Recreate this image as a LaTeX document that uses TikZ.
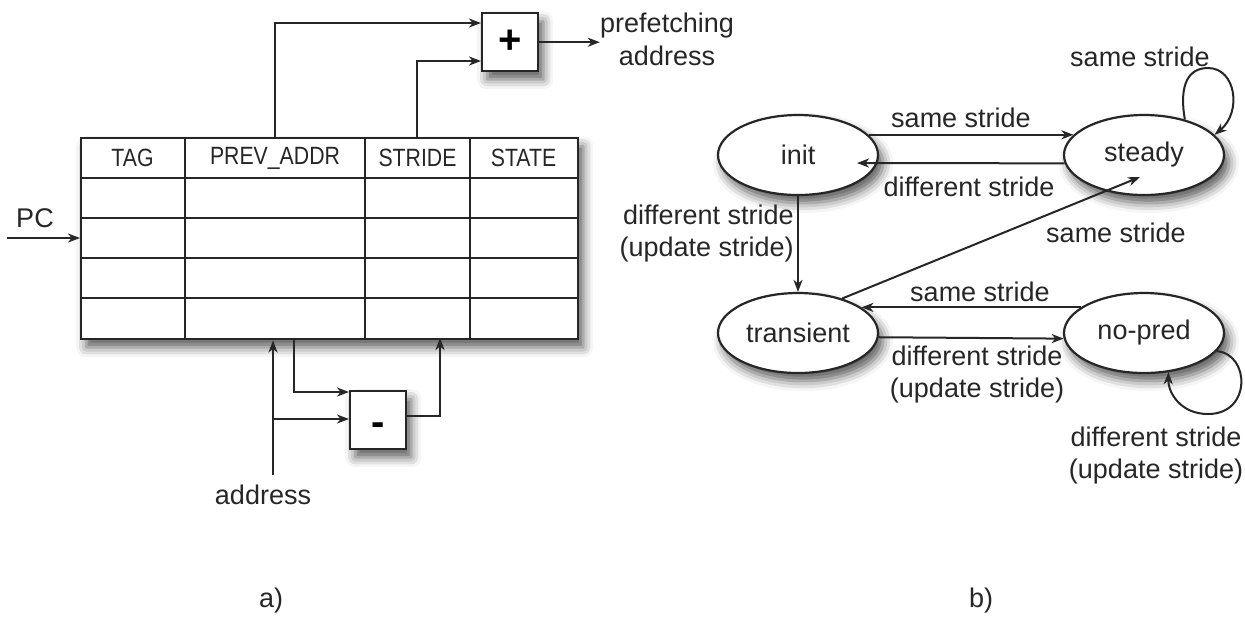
\documentclass[tikz,border=0pt]{standalone}
\usepackage{fontspec}
\setmainfont{Liberation Sans}
\newfontfamily\narrowfont[FakeStretch=0.85]{Liberation Sans}
\usetikzlibrary{arrows.meta,shapes.geometric,shadows.blur,calc}
\begin{document}
\begin{tikzpicture}[x=0.5pt,y=-0.5pt,
  lbl/.style={font=\fontsize{13.5}{16}\selectfont, inner sep=0pt, text=black!85},
  hdr/.style={font=\narrowfont\fontsize{12.5}{14}\selectfont, inner sep=0pt, text=black!85},
  arr/.style={-{Stealth[length=6pt,width=4.5pt,inset=1.8pt]}, line width=1pt, draw=black!85},
  shd/.style={blur shadow={shadow xshift=2.5pt, shadow yshift=-4pt, shadow blur radius=5pt, shadow opacity=65}},
  box/.style={draw=black!85, line width=1.2pt, fill=white, shd, inner sep=0pt},
  state/.style={ellipse, draw=black!85, line width=1.1pt, fill=white, shd, minimum width=80pt, minimum height=40pt, inner sep=0pt, font=\fontsize{13.5}{16}\selectfont, text=black!85},
]
\useasboundingbox (0,0) rectangle (1245,629);

% ---------- a) table ----------
\node[box, anchor=north west, minimum width=248.5pt, minimum height=100.5pt] (tbl) at (80,137) {};
\foreach \xx in {185,365,470} \draw[line width=1.1pt, black!85] (\xx,137) -- (\xx,338);
\foreach \yy in {178,218,258,298} \draw[line width=1.1pt, black!85] (80,\yy) -- (577,\yy);
\node[hdr] (hTag) at (132.5,158) {TAG};
\node[hdr] (hPrev) at (275,158) {PREV\_ADDR};
\node[hdr] (hStride) at (417.5,158) {STRIDE};
\node[hdr] (hState) at (523.5,158) {STATE};

% plus box
\node[box, anchor=north west, minimum width=28pt, minimum height=29pt, font=\fontsize{20}{20}\bfseries\selectfont] (plus) at (481,12) {+};
\node[lbl, align=center, font=\fontsize{13.5}{16.5}\selectfont] (pref) at (667,39) {prefetching\\address};
\coordinate (prevTop) at (275,137);
\coordinate (strTop) at (417,137);
\coordinate (plusIn1) at (481,23);
\coordinate (plusIn2) at (481,61);
\draw[arr] (prevTop) |- (plusIn1);
\draw[arr] (strTop) |- (plusIn2);
\draw[arr] (plus.east) -- (plus.east -| pref.west);

% PC
\node[lbl] (pc) at (35,218) {PC};
\coordinate (pcStart) at (7,238);
\draw[arr] (pcStart) -- (pcStart -| tbl.west);

% minus box
\node[box, anchor=north west, minimum width=28pt, minimum height=29pt, text height=14.8pt, text depth=0pt, font=\fontsize{20}{20}\bfseries\selectfont] (minus) at (349,390) {-};
\node[lbl] (addr) at (263,495) {address};
\coordinate (addrTop) at (273,475);
\coordinate (br) at (273,419);
\coordinate (prevBot) at (294,338);
\coordinate (minIn1) at (349,392);
\coordinate (strBot) at (440,338);
\draw[arr] (addrTop) -- (addrTop |- tbl.south);
\draw[arr] (br) -- (minus.west |- br);
\draw[arr] (prevBot) |- (minIn1);
\draw[arr] ([yshift=2pt]minus.east) -| (strBot);

\node[lbl] (la) at (271,600) {a)};

% ---------- b) state machine ----------
\node[state] (init) at (798,155) {init};
\node[state] (steady) at (1144,155) {steady};
\node[state] (trans) at (798,333) {transient};
\node[state] (nopred) at (1144,333) {no-pred};

\draw[arr] (init.16) -- (steady.164);
\draw[arr] (steady.186) -- ($(init.center)+(59,8)$);
\draw[arr] (init.south) -- (trans.north);
\draw[arr] (trans.38) -- ($(steady.center)+(-4,22)$);
\draw[arr] (nopred.158) -- (trans.22);
\draw[arr] (trans.-3.5) -- (nopred.-176.5);
\coordinate (sTop) at (1208,68);
\draw[arr] (steady.41) .. controls (1180,92) and (1184,68) .. (sTop)
  .. controls (1236,68) and (1242,112) .. (steady.16);
\coordinate (nBot) at (1208,414);
\draw[arr] (nopred.-14) .. controls (1250,354) and (1252,414) .. (nBot)
  .. controls (1180,414) and (1168,392) .. (nopred.-58);

\node[lbl] (l1) at (961,118) {same stride};
\node[lbl] (l2) at (969,187) {different stride};
\node[lbl, align=right, anchor=east, font=\fontsize{13.5}{16}\selectfont] (l3) at (794,234) {different stride\\(update stride)};
\node[lbl] (l4) at (1116,233) {same stride};
\node[lbl] (l5) at (980,292) {same stride};
\node[lbl, align=center, font=\fontsize{13.5}{16}\selectfont] (l6) at (977,375) {different stride\\(update stride)};
\node[lbl] (l7) at (1140,57) {same stride};
\node[lbl, align=center, font=\fontsize{13.5}{16}\selectfont] (l8) at (1156,455) {different stride\\(update stride)};

\node[lbl] (lb) at (981,600) {b)};
\end{tikzpicture}
\end{document}
